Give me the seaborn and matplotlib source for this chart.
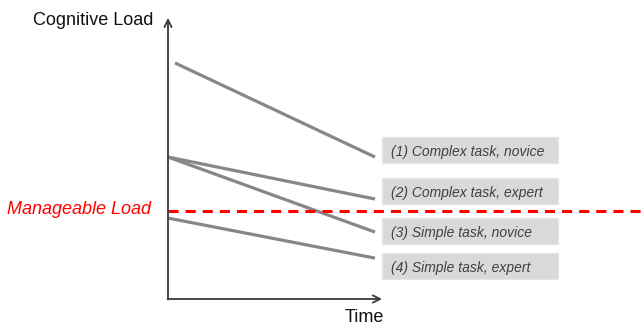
import numpy as np
import pandas as pd
import matplotlib
matplotlib.use("Agg")
import matplotlib.pyplot as plt
import seaborn as sns
from matplotlib.patches import Rectangle
from matplotlib.transforms import Affine2D

# ---- data ----
series = ["(1) Complex task, novice", "(2) Complex task, expert",
          "(3) Simple task, novice", "(4) Simple task, expert"]
time_start = [0.34, 0.0, 0.0, 0.0]
time_end = [10.0, 10.0, 10.0, 10.0]
load_start = [8.43, 5.07, 5.07, 2.89]
load_end = [5.07, 3.57, 2.39, 1.46]
manageable_load = 3.14
axis_top = 10.04
axis_right = 10.34
y_label = "Cognitive Load"
x_label = "Time"
threshold_label = "Manageable Load"

df = pd.DataFrame({
    "series": series * 2,
    "time": time_start + time_end,
    "load": load_start + load_end,
})

sns.set_style("white")
plt.rcParams["font.family"] = ["Liberation Sans", "DejaVu Sans"]

W, H = 642, 326
fig = plt.figure(figsize=(W / 100, H / 100), dpi=100)
ax = fig.add_axes([0, 0, 1, 1])

# scale: origin at pixel (168, 299); 20.7 px per time unit, 28 px per load unit
X0, Y0, SX, SY = 168, 299, 20.7, 28.0
ax.set_xlim(-X0 / SX, (W - X0) / SX)
ax.set_ylim((Y0 - H) / SY, Y0 / SY)
ax.axis("off")

sns.lineplot(data=df, x="time", y="load", hue="series", estimator=None,
             palette=["#878787"] * 4, linewidth=2.3, legend=False, ax=ax,
             solid_capstyle="butt")

# threshold line
ax.plot([0, (W - X0) / SX], [manageable_load, manageable_load],
        color="#ff0000", lw=2.2, linestyle=(0, (3.3, 2.3)), zorder=3)

# axes arrows
arrow = dict(arrowstyle="->", color="#3a3a3a", lw=1.3, mutation_scale=13,
             shrinkA=0, shrinkB=0)
ax.annotate("", xy=(0, axis_top), xytext=(0, -0.02), arrowprops=arrow)
ax.annotate("", xy=(axis_right, 0), xytext=(-0.02, 0), arrowprops=arrow)

pix = Affine2D().scale(1, -1).translate(0, H)

ax.text(33, 25, y_label, transform=pix, fontsize=13, color="#111111",
        ha="left", va="baseline")
ax.text(345, 322, x_label, transform=pix, fontsize=13, color="#111111",
        ha="left", va="baseline")
ax.text(7, 213.5, threshold_label, transform=pix, fontsize=13, color="#ff0000",
        style="italic", ha="left", va="baseline")

box_tops = [137, 178, 218, 253]
for name, top in zip(series, box_tops):
    ax.add_patch(Rectangle((382, top + 26), 176, -26, transform=pix,
                           facecolor="#d9d9d9", edgecolor="#e6e6e6", lw=1,
                           clip_on=False))
    ax.text(391, top + 19, name, transform=pix, fontsize=10, color="#404040",
            style="italic", ha="left", va="baseline")

fig.savefig("out.png", dpi=100)
